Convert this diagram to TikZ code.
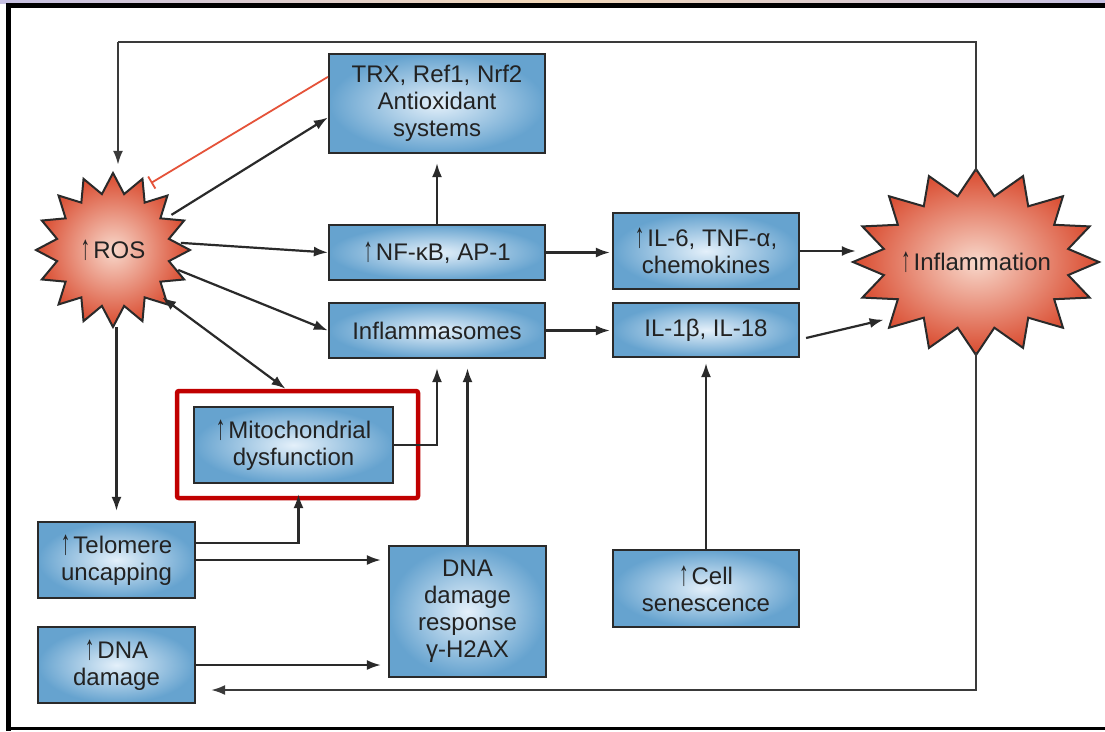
\documentclass[tikz,border=0pt]{standalone}
\usepackage{fontspec}
\setmainfont{Liberation Sans}
\usetikzlibrary{arrows.meta,calc,shapes.geometric}

\definecolor{boxedge}{HTML}{66A3CF}
\definecolor{boxmid}{HTML}{E4F0FA}
\definecolor{burstedge}{HTML}{D94A2E}
\definecolor{burstmid}{HTML}{F8D8CB}
\definecolor{ink}{HTML}{222222}
\definecolor{lineink}{HTML}{2A2A2A}
\definecolor{framegray}{HTML}{3A3A3A}
\definecolor{hired}{HTML}{C00000}
\definecolor{inhib}{HTML}{E5533A}
\definecolor{lav}{HTML}{C6C0E2}
\definecolor{peach}{HTML}{F2D7B8}

% small "increase" arrow in front of a label
\newcommand\upar{\raisebox{-1pt}{\scalebox{0.8}[1.45]{↑}}\hspace{3pt}}

\begin{document}
\begin{tikzpicture}[x=1pt, y=-1pt,
  font=\fontsize{24}{27}\selectfont,
  box/.style={draw=lineink, line width=2.2pt, inner color=boxmid, outer color=boxedge,
    align=center, inner sep=0pt, text=ink},
  burst/.style={draw=lineink, line width=2pt, inner color=burstmid, outer color=burstedge},
  hub/.style={inner sep=0pt, text=ink, align=center},
  hilite/.style={draw=hired, line width=4.5pt, rounded corners=2pt, inner sep=0pt},
  arr/.style={draw=lineink, line width=2.2pt, -{Latex[length=14pt,width=10pt]}},
  darr/.style={draw=lineink, line width=2.2pt, {Latex[length=14pt,width=10pt]}-{Latex[length=14pt,width=10pt]}},
  inh/.style={draw=inhib, line width=1.8pt, -{Bar[width=14pt,line width=1.8pt]}},
  loop/.style={draw=framegray, line width=2.2pt}]

\useasboundingbox (0,0) rectangle (1105,731);
\fill[white] (0,0) rectangle (1105,731);

% outer frame
\shade[left color=lav, right color=lav, middle color=peach] (0,0) rectangle (1105,3.2);
\draw[line width=5pt, black] (1105,5.5) -- (6,5.5);
\draw[line width=4.5pt, black] (8.5,3) -- (8.5,730.5);
\draw[line width=3pt, black] (6,728.5) -- (1105,728.5);

% starbursts
\path[burst] plot[samples=32, domain=0:31, variable=\k]
  ({113+(mod(\k,2)==0 ? 77 : 57)*cos(\k*11.25)},
   {250+(mod(\k,2)==0 ? 77 : 57)*sin(\k*11.25)}) -- cycle;
\path[burst] plot[samples=32, domain=0:31, variable=\k]
  ({976+(mod(\k,2)==0 ? 123 : 94)*cos(\k*11.25)},
   {262+(mod(\k,2)==0 ? 93 : 67)*sin(\k*11.25)}) -- cycle;

\node[hub, circle, minimum size=136pt] (ros) at (113,250) {\upar ROS};
\node[hub, ellipse, minimum width=240pt, minimum height=180pt] (infl) at (976,262) {\upar Inflammation};

% boxes
\node[box, minimum width=216pt, minimum height=99pt] (trx) at (437,103.5) {TRX, Ref1, Nrf2\\Antioxidant\\systems};
\node[box, minimum width=216pt, minimum height=55pt] (nfkb) at (437,252.5) {\upar NF-κB, AP-1};
\node[box, minimum width=216pt, minimum height=55pt] (inf) at (437,330.5) {Inflammasomes};
\node[box, minimum width=186pt, minimum height=76pt] (il6) at (706,251) {\upar IL-6, TNF-α,\\chemokines};
\node[box, minimum width=186pt, minimum height=54pt] (il1) at (706,330) {IL-1β, IL-18};
\node[box, minimum width=199pt, minimum height=76pt] (mito) at (293.5,445) {\upar Mitochondrial\\dysfunction};
\node[hilite, minimum width=241pt, minimum height=107pt] (hl) at (297.5,444.5) {};
\node[box, minimum width=157pt, minimum height=76pt] (tel) at (116.5,560) {\upar Telomere\\uncapping};
\node[box, minimum width=157pt, minimum height=76pt] (dna) at (116.5,665) {\upar DNA\\damage};
\node[box, minimum width=157pt, minimum height=131pt] (ddr) at (467.5,611.5) {DNA\\damage\\response\\γ-H2AX};
\node[box, minimum width=186pt, minimum height=77pt] (sen) at (706,588.5) {\upar Cell\\senescence};

% feedback loop over the top
\coordinate (loopTL) at (118,42);
\draw[loop] (infl.north) |- (loopTL);
\draw[arr, draw=framegray, shorten >=17pt] (loopTL) -- (loopTL |- ros.north);

% connectors from ROS
\draw[arr] (ros.31) -- ($(trx.west)+(0,14)$);
\draw[inh] ($(trx.north west)+(0,24)$) -- ($(ros.center)+(38,-67)$);
\draw[arr] (ros.6) -- (nfkb.west);
\draw[arr] (ros.-17) -- (inf.west);
\draw[darr] (ros.-44) -- ($(hl.north)+(-12,0)$);
\draw[arr, shorten <=9pt, shorten >=10pt] (tel.north |- ros.south) -- (tel.north);

% middle rows
\draw[arr, shorten >=9pt] (nfkb.north) -- (trx.south);
\draw[arr, shorten >=2pt] (nfkb.east) -- (il6.west |- nfkb.east);
\draw[arr, shorten >=2pt] (inf.east) -- (il1.west |- inf.east);
\draw[arr] (il6.east) -- (il6.east -| infl.west);
\draw[arr] ($(il1.east)+(6,8)$) -- (infl.212);

% into the inflammasomes and IL-1
\draw[arr, shorten >=9pt] (mito.east) -| (inf.south);
\draw[arr, shorten >=9pt] (ddr.north) -- (ddr.north |- inf.south);
\draw[arr, shorten >=5pt] (sen.north) -- (il1.south);

% lower left
\draw[arr, shorten >=10pt] ($(tel.east)+(0,-17)$) -| ($(mito.south)+(5,0)$);
\draw[arr, shorten >=7pt] (tel.east) -- (ddr.west |- tel.east);
\draw[arr, shorten >=7pt] (dna.east) -- (ddr.west |- dna.east);

% loop back along the bottom
\draw[arr, draw=framegray, shorten >=15pt] (infl.south) |- ($(dna.east)+(0,25)$);

\end{tikzpicture}
\end{document}
